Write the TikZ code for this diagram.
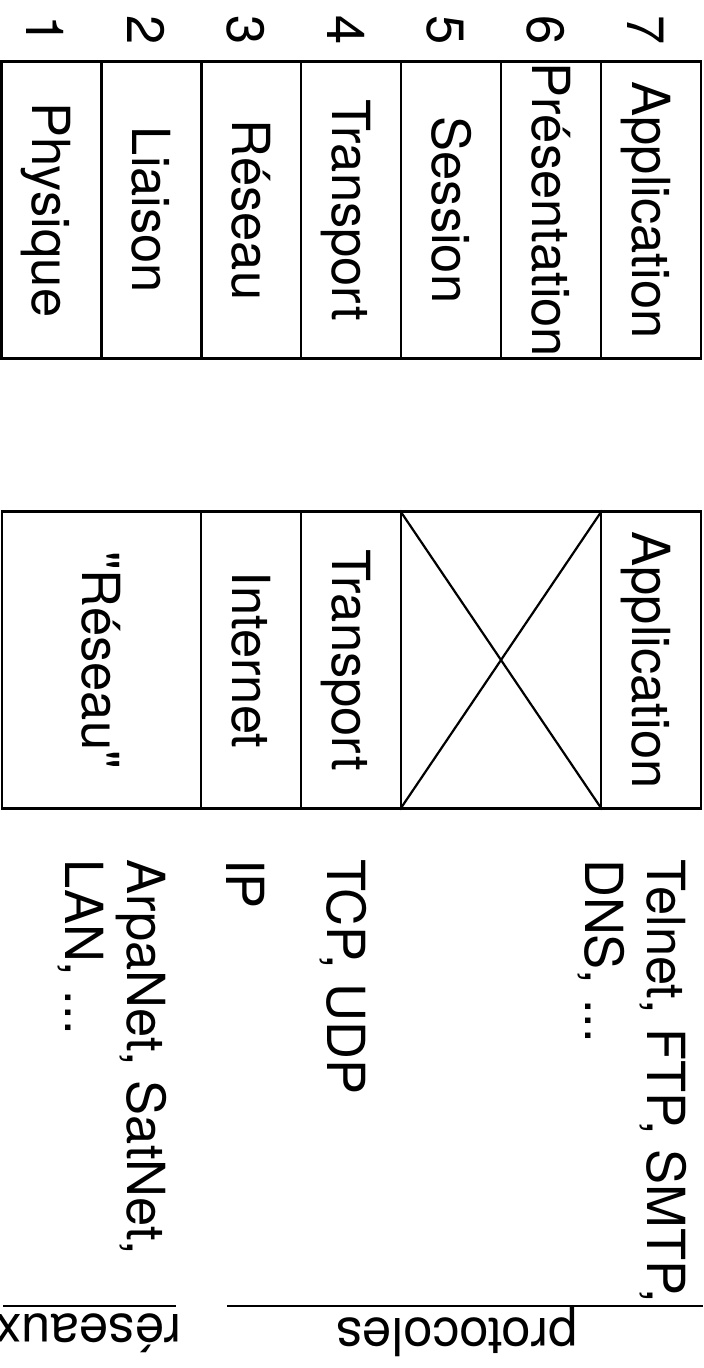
\documentclass[tikz,border=0pt]{standalone}
\usepackage{fontspec}
\setmainfont{TeX Gyre Heros}[Ligatures=TeXOff]
\begin{document}
\begin{tikzpicture}[x=1pt,y=-1pt,line width=2.2pt,
  bigfont/.style={font=\fontsize{52.5}{62}\selectfont},
  layer/.style={bigfont,draw,rotate=-90,inner sep=0pt,minimum height=100pt,
    text height=37.7pt,text depth=0pt},
  layertop/.style={layer,minimum width=297pt},
  layerbot/.style={layer,minimum width=297pt},
  num/.style={bigfont,rotate=-90,anchor=base,inner sep=0pt},
  proto/.style={bigfont,rotate=-90,anchor=base west,inner sep=0pt,align=left},
  capt/.style={bigfont,rotate=180,anchor=base,inner sep=0pt}]
\useasboundingbox (0,0) rectangle (704,1368);
% OSI model
\node[layertop] (phy) at (51.5,210) {Physique};
\node[layertop] (lia) at (151.5,210) {Liaison};
\node[layertop] (res) at (251,210) {Réseau};
\node[layertop] (tra) at (351,210) {Transport};
\node[layertop] (ses) at (451,210) {Session};
\node[layertop] (pre) at (551,210) {Présentation};
\node[layertop] (app) at (651,210) {Application};
% numbers
\node[num] (n1) at (27,30) {1};
\node[num] (n2) at (127,30) {2};
\node[num] (n3) at (227,30) {3};
\node[num] (n4) at (327,30) {4};
\node[num] (n5) at (427,30) {5};
\node[num] (n6) at (527,30) {6};
\node[num] (n7) at (627,30) {7};
% TCP/IP model
\node[layerbot,minimum height=199pt] (rz) at (101.5,660) {"Réseau"};
\node[layerbot] (int) at (251,660) {Internet};
\node[layerbot] (tr2) at (351,660) {Transport};
\node[layerbot,minimum height=200pt] (empty) at (501,660) {};
\node[layerbot] (ap2) at (651,660) {Application};
\draw (empty.north west) -- (empty.south east);
\draw (empty.north east) -- (empty.south west);
% protocols (anchor = baseline of the last line)
\node[proto] (p1) at (585,858) {Telnet, FTP, SMTP,\\DNS, ...};
\node[proto] (p2) at (327,858) {TCP, UDP};
\node[proto] (p3) at (226,858) {IP};
\node[proto] (p4) at (65,858) {ArpaNet, SatNet,\\LAN, ...};
% rules and captions
\coordinate (ra) at (3,1306);
\coordinate (rb) at (176,1306);
\coordinate (pa) at (227,1306);
\coordinate (pb) at (703,1306);
\draw (ra) -- (rb);
\draw (pa) -- (pb);
\node[capt] (lres) at (88,1314) {réseaux};
\node[capt] (lpro) at (457,1318) {protocoles};
\end{tikzpicture}
\end{document}
